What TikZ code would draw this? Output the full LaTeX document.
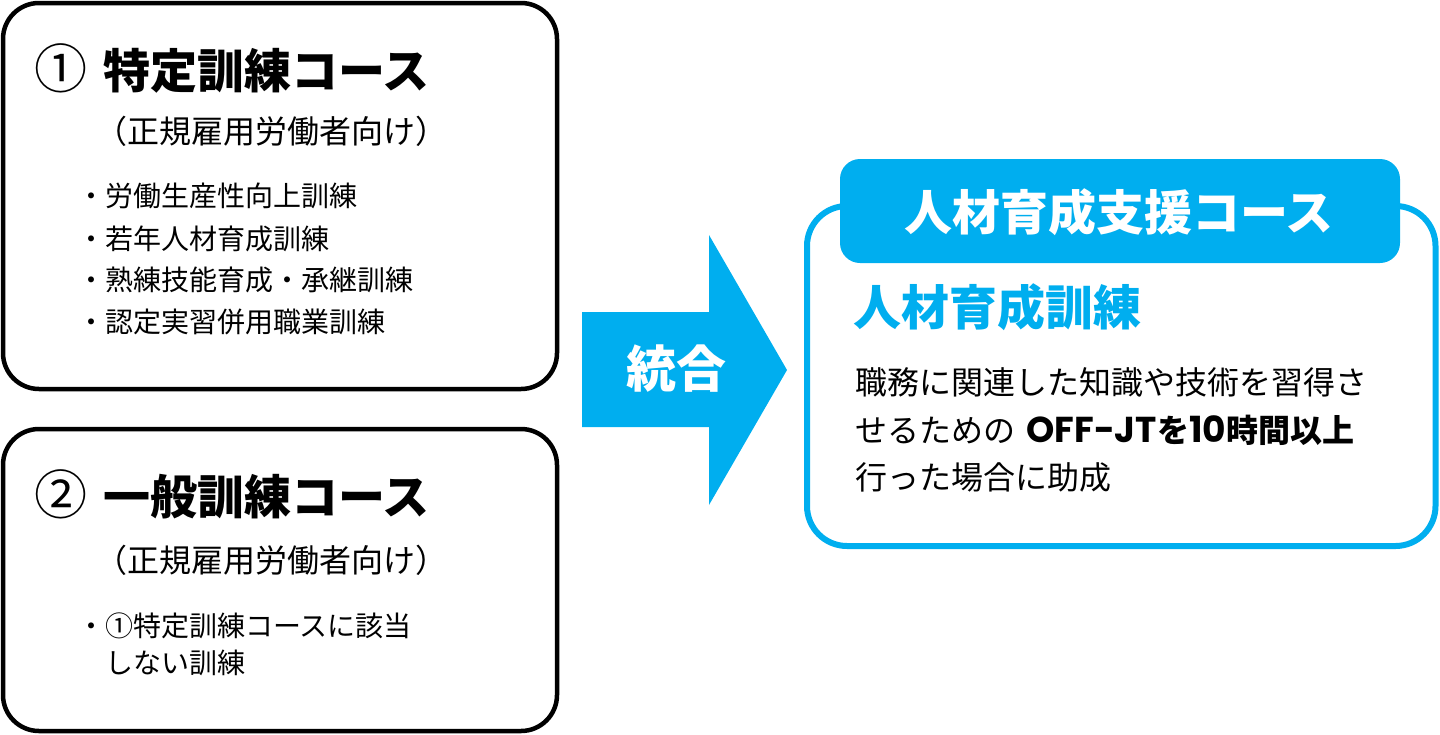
\documentclass[tikz,border=0pt]{standalone}
\usepackage{fontspec}
\setmainfont{Noto Sans CJK JP}
\newfontfamily\latinb{Poppins}[Numbers=Monospaced]
\usepackage{tikz}
\usetikzlibrary{positioning}
\definecolor{kblue}{RGB}{0,174,239}

\begin{document}
\begin{tikzpicture}[x=1pt,y=-1pt,
    box/.style={draw=black,line width=4.5pt,rounded corners=36pt},
    bluebox/.style={draw=kblue,line width=6pt,rounded corners=40pt},
    tab/.style={fill=kblue,rounded corners=20pt},
    ttl/.style={anchor=base west,inner sep=0pt,font=\fontsize{47}{50}\selectfont\bfseries},
    sub/.style={anchor=base west,inner sep=0pt,font=\fontsize{32}{36}\selectfont},
    itm/.style={anchor=base west,inner sep=0pt,font=\fontsize{28}{32}\selectfont},
    body/.style={anchor=base west,inner sep=0pt,font=\fontsize{32}{36}\selectfont}]
    \useasboundingbox (0,0) rectangle (1440,734);

    % left boxes
    \node[box,minimum width=554pt,minimum height=386pt] (spec) at (280,196) {};
    \node[box,minimum width=554pt,minimum height=302pt] (gen) at (280,580) {};

    \node[ttl] (specT) at (34,88) {{\mdseries\fontsize{53}{50}\selectfont ①}\hspace{16pt}特定訓練コース};
    \node[sub] (specS) at (95,143) {（正規雇用労働者向け）};
    \node[itm] (s1) at (77,206) {・労働生産性向上訓練};
    \node[itm] (s2) at (77,249) {・若年人材育成訓練};
    \node[itm] (s3) at (77,290) {・熟練技能育成・承継訓練};
    \node[itm] (s4) at (77,332) {・認定実習併用職業訓練};

    \node[ttl] (genT) at (34,514) {{\mdseries\fontsize{53}{50}\selectfont ②}\hspace{16pt}一般訓練コース};
    \node[sub] (genS) at (95,572) {（正規雇用労働者向け）};
    \node[itm] (g1) at (77,636) {・①特定訓練コースに該当};
    \node[itm] (g2) at (105,673) {しない訓練};

    % arrow
    \fill[kblue] (582,312) -- (709,312) -- (709,235) -- (787,370)
        -- (709,505) -- (709,427) -- (582,427) -- cycle;
    \node[anchor=base,inner sep=0pt,text=white,
        font=\fontsize{50}{50}\selectfont\bfseries] (merge) at (676,387) {統合};

    % right box
    \node[bluebox,minimum width=628.5pt,minimum height=340pt] (hr) at (1121.25,376) {};
    \node[tab,minimum width=560pt,minimum height=104pt] (hrTab) at (1120,211) {};
    \node[anchor=base,inner sep=0pt,text=white,
        font=\fontsize{48}{50}\selectfont\bfseries] (hrT) at (1119,230) {人材育成支援コース};
    \node[ttl,text=kblue,font=\fontsize{48}{50}\selectfont\bfseries] (hrS) at (853,325) {人材育成訓練};
    \node[body] (b1) at (855,394) {職務に関連した知識や技術を習得さ};
    \node[body] (b2) at (855,442) {せるための\hspace{4pt} \textbf{{\latinb\fontsize{36}{36}\selectfont OFF-JT}を{\latinb\fontsize{36}{36}\selectfont 10}時間以上}};
    \node[body] (b3) at (855,489) {行った場合に助成};
\end{tikzpicture}
\end{document}
